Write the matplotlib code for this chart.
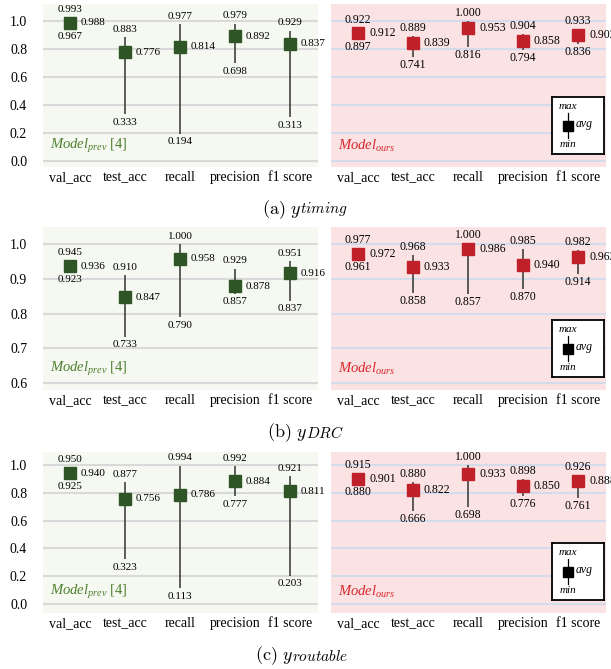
import matplotlib
matplotlib.use("Agg")
import matplotlib.pyplot as plt

plt.rcParams['font.family'] = ['Liberation Serif', 'DejaVu Serif']
plt.rcParams['mathtext.fontset'] = 'custom'
plt.rcParams['mathtext.rm'] = 'Liberation Serif'
plt.rcParams['mathtext.it'] = 'Liberation Serif:italic'

categories = ["val_acc", "test_acc", "recall", "precision", "f1 score"]

# (a) y_timing
timing_prev_max = [0.993, 0.883, 0.977, 0.979, 0.929]
timing_prev_avg = [0.988, 0.776, 0.814, 0.892, 0.837]
timing_prev_min = [0.967, 0.333, 0.194, 0.698, 0.313]
timing_ours_max = [0.922, 0.889, 1.000, 0.904, 0.933]
timing_ours_avg = [0.912, 0.839, 0.953, 0.858, 0.902]
timing_ours_min = [0.897, 0.741, 0.816, 0.794, 0.836]

# (b) y_DRC
drc_prev_max = [0.945, 0.910, 1.000, 0.929, 0.951]
drc_prev_avg = [0.936, 0.847, 0.958, 0.878, 0.916]
drc_prev_min = [0.923, 0.733, 0.790, 0.857, 0.837]
drc_ours_max = [0.977, 0.968, 1.000, 0.985, 0.982]
drc_ours_avg = [0.972, 0.933, 0.986, 0.940, 0.962]
drc_ours_min = [0.961, 0.858, 0.857, 0.870, 0.914]

# (c) y_routable
rout_prev_max = [0.950, 0.877, 0.994, 0.992, 0.921]
rout_prev_avg = [0.940, 0.756, 0.786, 0.884, 0.811]
rout_prev_min = [0.925, 0.323, 0.113, 0.777, 0.203]
rout_ours_max = [0.915, 0.880, 1.000, 0.898, 0.926]
rout_ours_avg = [0.901, 0.822, 0.933, 0.850, 0.888]
rout_ours_min = [0.880, 0.666, 0.698, 0.776, 0.761]

W, H = 611, 669
fig = plt.figure(figsize=(W / 100, H / 100), dpi=100)

GREEN_BG = "#f5f9f1"
PINK_BG = "#fbe3e3"
GREEN_MK = "#2f5526"
RED_MK = "#c0202a"
GREEN_TX = "#4f7f2f"
RED_TX = "#d9262c"


def px_axes(x0, y0, x1, y1):
    return fig.add_axes([x0 / W, 1 - y1 / H, (x1 - x0) / W, (y1 - y0) / H])


def draw_panel(ax, vmax, vavg, vmin, ylim, yticks, mk, bg, gridc, show_y,
               label, label_color, vsize):
    ax.set_facecolor(bg)
    ax.set_xlim(-0.5, 4.5)
    ax.set_ylim(*ylim)
    for s in ax.spines.values():
        s.set_visible(False)
    ax.set_yticks(yticks)
    ax.yaxis.grid(True, color=gridc, lw=1.5)
    ax.set_axisbelow(True)
    ax.set_xticks(range(len(categories)))
    ax.set_xticklabels(categories, fontsize=10)
    ax.tick_params(axis='x', length=0, pad=3)
    if show_y:
        ax.set_yticklabels(["%.1f" % t for t in yticks], fontsize=10)
        ax.tick_params(axis='y', length=0, pad=11)
    else:
        ax.tick_params(axis='y', length=0, labelleft=False)

    hpx = ax.get_position().height * H
    ppu = hpx / (ylim[1] - ylim[0])
    half = 5.5
    for i in range(len(categories)):
        ax.vlines(i, vmin[i], vmax[i], color="#333333", lw=1.1, zorder=2)
        ax.plot(i, vavg[i], marker='s', ms=8, color=mk, mec=mk, zorder=3)
        up = 8 + max(0.0, half - (vmax[i] - vavg[i]) * ppu)
        dn = 8 + max(0.0, half - (vavg[i] - vmin[i]) * ppu)
        ax.annotate("%.3f" % vmax[i], (i, vmax[i]), xytext=(0, up * 0.72),
                    textcoords='offset points', ha='center', va='center',
                    fontsize=vsize, annotation_clip=False)
        ax.annotate("%.3f" % vmin[i], (i, vmin[i]), xytext=(0, -dn * 0.72),
                    textcoords='offset points', ha='center', va='center',
                    fontsize=vsize, annotation_clip=False)
        ax.annotate("%.3f" % vavg[i], (i, vavg[i]), xytext=(11 * 0.72, 0),
                    textcoords='offset points', ha='left', va='center',
                    fontsize=vsize, annotation_clip=False)

    ax.text(8 / 275, 21 / hpx, label, transform=ax.transAxes, color=label_color,
            fontsize=10.5, ha='left', va='center')


def draw_key(ax):
    pos = ax.get_position()
    x1 = pos.x1 * W - 2
    y1 = (1 - pos.y0) * H - 13
    k = px_axes(x1 - 52, y1 - 57, x1, y1)
    k.set_xlim(0, 1)
    k.set_ylim(0, 1)
    k.set_xticks([])
    k.set_yticks([])
    k.set_facecolor("white")
    for s in k.spines.values():
        s.set_linewidth(1.3)
        s.set_color("black")
    k.plot([0.32, 0.32], [0.28, 0.72], color="black", lw=0.9)
    k.plot(0.32, 0.50, marker='s', ms=6.5, color="black")
    k.text(0.32, 0.83, "max", style='italic', fontsize=8, ha='center', va='center')
    k.text(0.32, 0.16, "min", style='italic', fontsize=8, ha='center', va='center')
    k.text(0.47, 0.53, "avg", style='italic', fontsize=8.5, ha='left', va='center')


rows = [
    (4, 167, (-0.043, 1.121), [0.0, 0.2, 0.4, 0.6, 0.8, 1.0],
     (timing_prev_max, timing_prev_avg, timing_prev_min),
     (timing_ours_max, timing_ours_avg, timing_ours_min),
     "(a)", "timing", 262, 210),
    (227, 390, (0.580, 1.049), [0.6, 0.7, 0.8, 0.9, 1.0],
     (drc_prev_max, drc_prev_avg, drc_prev_min),
     (drc_ours_max, drc_ours_avg, drc_ours_min),
     "(b)", "DRC", 267, 433),
    (452, 613, (-0.065, 1.094), [0.0, 0.2, 0.4, 0.6, 0.8, 1.0],
     (rout_prev_max, rout_prev_avg, rout_prev_min),
     (rout_ours_max, rout_ours_avg, rout_ours_min),
     "(c)", "routable", 255, 656),
]

for top, bot, ylim, yticks, prev, ours, tag, sub, cap_x, cap_y in rows:
    axl = px_axes(42.5, top, 317.5, bot)
    draw_panel(axl, *prev, ylim, yticks, GREEN_MK, GREEN_BG, "#d9d9d9", True,
               r"$Model_{prev}$ [4]", GREEN_TX, 8)
    axr = px_axes(330.5, top, 605.5, bot)
    draw_panel(axr, *ours, ylim, yticks, RED_MK, PINK_BG, "#d4dbea", False,
               r"$Model_{ours}$", RED_TX, 8.5)
    draw_key(axr)
    main = fig.text(cap_x / W, 1 - cap_y / H, r"$\mathrm{%s}\ y$" % tag, fontsize=13,
                    ha='left', va='center', math_fontfamily='cm')
    axl.annotate(r"$%s$" % sub, xy=(1, 0), xycoords=main, xytext=(-0.8, 2.2),
                 textcoords='offset points', ha='left', va='bottom',
                 fontsize=11, math_fontfamily='cm', annotation_clip=False)

fig.savefig("out.png", dpi=100)
